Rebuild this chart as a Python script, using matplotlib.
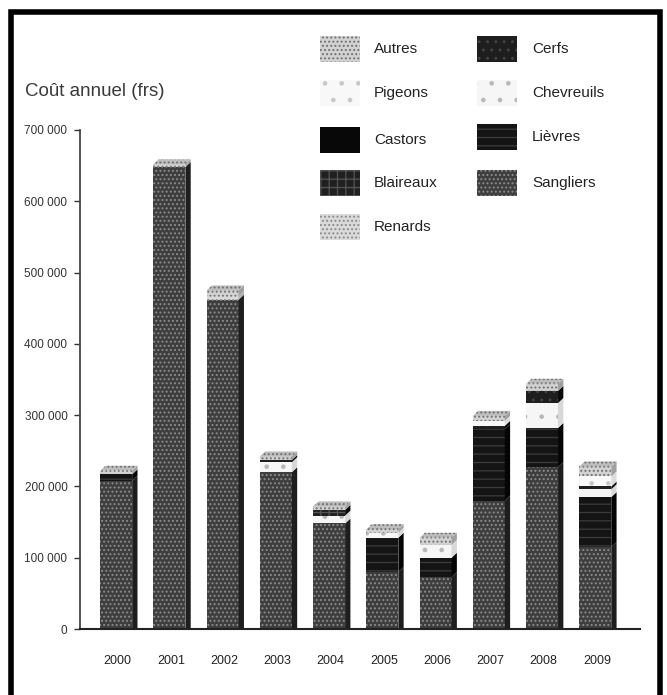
import matplotlib
matplotlib.use("Agg")
import matplotlib.pyplot as plt
from matplotlib.patches import Polygon, Rectangle
from matplotlib.lines import Line2D
import numpy as np

# ---- data (annual cost of game damage, in francs) ----
years = ["2000", "2001", "2002", "2003", "2004", "2005", "2006", "2007", "2008", "2009"]
sangliers = [208000, 648000, 462000, 220000, 148000, 80000, 73000, 180000, 227000, 115000]
lievres = [9000, 0, 0, 0, 0, 48000, 27000, 100000, 55000, 70000]
chevreuils = [0, 0, 0, 14000, 11000, 7000, 18000, 0, 35000, 11000]
cerfs = [0, 0, 0, 3000, 0, 0, 0, 5000, 17000, 4000]
renards = [0, 0, 5000, 0, 0, 0, 0, 0, 0, 0]
blaireaux = [0, 0, 0, 0, 8000, 0, 0, 0, 0, 0]
castors = [0, 0, 0, 0, 0, 0, 0, 0, 0, 0]
pigeons = [0, 0, 0, 0, 0, 0, 0, 7000, 0, 14000]
autres = [5000, 4000, 8000, 5000, 5000, 5000, 10000, 7000, 10000, 14000]

yticks = [0, 100000, 200000, 300000, 400000, 500000, 600000, 700000]
ytick_labels = ["0", "100 000", "200 000", "300 000", "400 000", "500 000", "600 000", "700 000"]

# stacking order, bottom to top: (name, values, face, hatch, hatch colour, side colour)
series = [
    ("Sangliers", sangliers, "#3e3e3e", "....", "#8c8c8c", "#1e1e1e"),
    ("Lièvres", lievres, "#141414", "--", "#3c3c3c", "#050505"),
    ("Chevreuils", chevreuils, "#f6f6f6", ".", "#b8b8b8", "#d8d8d8"),
    ("Cerfs", cerfs, "#1e1e1e", "..", "#444444", "#0a0a0a"),
    ("Renards", renards, "#dadada", "....", "#8a8a8a", "#b0b0b0"),
    ("Blaireaux", blaireaux, "#202020", "++", "#555555", "#0c0c0c"),
    ("Castors", castors, "#080808", "", "#080808", "#000000"),
    ("Pigeons", pigeons, "#f8f8f8", ".", "#c8c8c8", "#dddddd"),
    ("Autres", autres, "#d2d2d2", "....", "#707070", "#a0a0a0"),
]

plt.rcParams["hatch.linewidth"] = 0.9
sans = ["Liberation Sans", "DejaVu Sans"]

W, H = 667, 695
fig = plt.figure(figsize=(W / 100, H / 100), dpi=100)
fig.patch.set_facecolor("white")


def fx(px):
    return px / W


def fy(py):
    return 1 - py / H


ax = fig.add_axes([fx(80), fy(629), fx(640) - fx(80), fy(130) - fy(629)])
x = np.arange(len(years))
bar_w = 0.6
shift = -0.03
depth_x = 0.1
depth_y = 7000

bottoms = np.zeros(len(years))
for name, vals, face, hatch, hcol, side in series:
    vals = np.array(vals, dtype=float)
    ax.bar(x + shift, vals, width=bar_w, bottom=bottoms, color=face,
           hatch=hatch, edgecolor=hcol, linewidth=0, zorder=2)
    # right-hand side faces of the blocks
    for i in range(len(years)):
        if vals[i] <= 0:
            continue
        xr = x[i] + shift + bar_w / 2
        b0 = bottoms[i]
        b1 = bottoms[i] + vals[i]
        ax.add_patch(Polygon([(xr, b0), (xr + depth_x, b0 + depth_y * (b0 > 0)),
                              (xr + depth_x, b1 + depth_y), (xr, b1)],
                             closed=True, facecolor=side, edgecolor="none", zorder=2))
    bottoms = bottoms + vals

# top faces carry the pattern of the uppermost non-empty segment
for i in range(len(years)):
    top_style = None
    for name, vals, face, hatch, hcol, side in series:
        if vals[i] > 0:
            top_style = (face, hatch, hcol)
    face, hatch, hcol = top_style
    xl = x[i] + shift - bar_w / 2
    xr = x[i] + shift + bar_w / 2
    t = bottoms[i]
    ax.add_patch(Polygon([(xl, t), (xl + depth_x, t + depth_y), (xr + depth_x, t + depth_y), (xr, t)],
                         closed=True, facecolor="#bdbdbd", hatch=hatch, edgecolor=hcol,
                         linewidth=0, zorder=3))

ax.set_xlim(-0.71, 9.81)
ax.set_ylim(0, 700000)
ax.set_yticks(yticks)
ax.set_yticklabels(ytick_labels, family=sans, fontsize=8.5, color="#333333")
ax.set_xticks(x)
ax.set_xticklabels(years, family=sans, fontsize=9, color="#222222")
ax.tick_params(axis="x", length=0, pad=19)
ax.tick_params(axis="y", length=4, width=1.0, pad=5, color="#333333", direction="out")
for s in ("top", "right"):
    ax.spines[s].set_visible(False)
ax.spines["left"].set_color("#444444")
ax.spines["left"].set_linewidth(1.3)
ax.spines["bottom"].set_color("#222222")
ax.spines["bottom"].set_linewidth(1.5)
ax.set_facecolor("white")

fig.text(fx(25), fy(92), "Coût annuel (frs)", fontsize=13.5, color="#3a3a3a",
         family=sans, ha="left", va="center")

# legend, two columns
style = {name: (face, hatch, hcol) for name, vals, face, hatch, hcol, side in series}
left_col = [("Autres", 49), ("Pigeons", 93), ("Castors", 140), ("Blaireaux", 183), ("Renards", 227)]
right_col = [("Cerfs", 49), ("Chevreuils", 93), ("Lièvres", 137), ("Sangliers", 183)]
for col, sx, tx in ((left_col, 320, 374), (right_col, 477, 532)):
    for name, cy in col:
        face, hatch, hcol = style[name]
        fig.add_artist(Rectangle((fx(sx), fy(cy + 13)), fx(40), 26 / H,
                                 transform=fig.transFigure, facecolor=face, hatch=hatch,
                                 edgecolor=hcol, linewidth=0))
        fig.text(fx(tx), fy(cy), name, fontsize=11, family=sans, color="#222222",
                 ha="left", va="center")

# outer frame
fig.add_artist(Line2D([fx(11), fx(11), fx(660), fx(660)], [0, fy(12), fy(12), 0],
                      transform=fig.transFigure, color="black", linewidth=4.0,
                      solid_joinstyle="miter"))

fig.savefig("out.png", dpi=100, facecolor="white")
